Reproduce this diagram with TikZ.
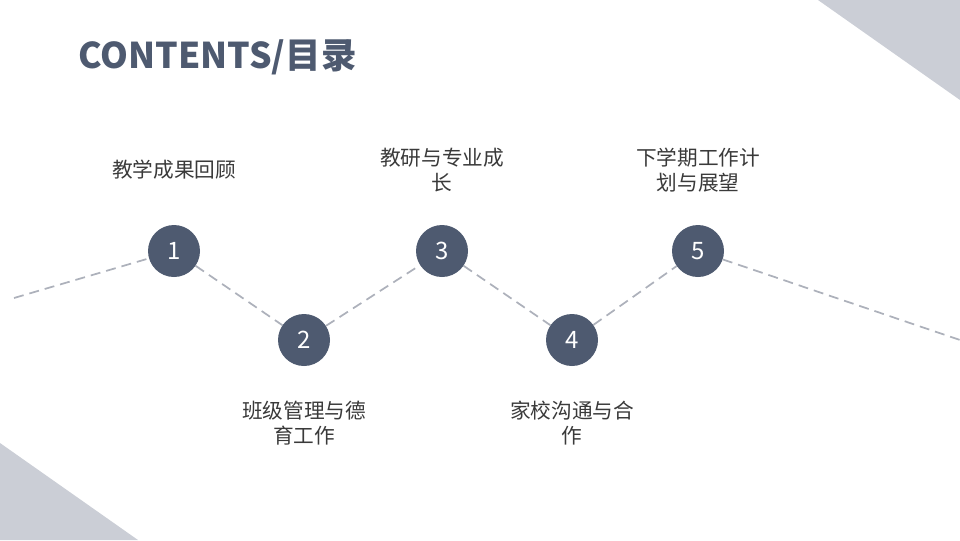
\documentclass[tikz,border=0pt]{standalone}
\usepackage{fontspec}
\usepackage{xcolor}
\newfontfamily\cjk{Noto Sans CJK SC}
\usetikzlibrary{positioning}
\definecolor{slate}{HTML}{4E5A70}
\definecolor{dashgray}{HTML}{ADB1BB}
\definecolor{cornergray}{HTML}{CBCED6}
\definecolor{labelgray}{HTML}{3A3A3A}
\tikzstyle{stepdot} = [circle, fill=slate, text=white, minimum size=39pt, inner sep=0pt,
font=\cjk\fontsize{18}{18}\selectfont]
\tikzstyle{caption} = [text=labelgray, align=center, font=\cjk\fontsize{15.5}{18.75}\selectfont]
\tikzstyle{dashline} = [dashgray, line width=1.3pt, dash pattern=on 7.5pt off 4.5pt]

\begin{document}
\begin{tikzpicture}[x=0.75pt, y=-0.75pt, node distance=61pt]
            \useasboundingbox (0,0) rectangle (960,540);
            % corner triangles
            \fill[cornergray] (818,0) -- (960,0) -- (960,100) -- cycle;
            \fill[cornergray] (0,443) -- (138,540) -- (0,540) -- cycle;
            \node(title) [anchor=base west, inner sep=0pt, text=slate, font=\cjk\bfseries\fontsize{26.6}{26.6}\selectfont] at (78,68) {CONTENTS/目录};
            \coordinate (lend) at (14,298);
            \coordinate (rend) at (960,340);
            \node(n1) [stepdot] at (174,251) {1};
            \node(n2) [stepdot] at (304,340) {2};
            \node(n3) [stepdot] at (442,251) {3};
            \node(n4) [stepdot] at (572,340) {4};
            \node(n5) [stepdot] at (698,251) {5};
            \draw[dashline] (lend) -- (n1) -- (n2) -- (n3) -- (n4) -- (n5) -- (rend);
            \node(t1) [caption, above of=n1] {教学成果回顾};
            \node(t2) [caption, below of=n2, yshift=-1.5pt] {班级管理与德\\育工作};
            \node(t3) [caption, above of=n3] {教研与专业成\\长};
            \node(t4) [caption, below of=n4, yshift=-1.5pt] {家校沟通与合\\作};
            \node(t5) [caption, above of=n5] {下学期工作计\\划与展望};
        \end{tikzpicture}
\end{document}
